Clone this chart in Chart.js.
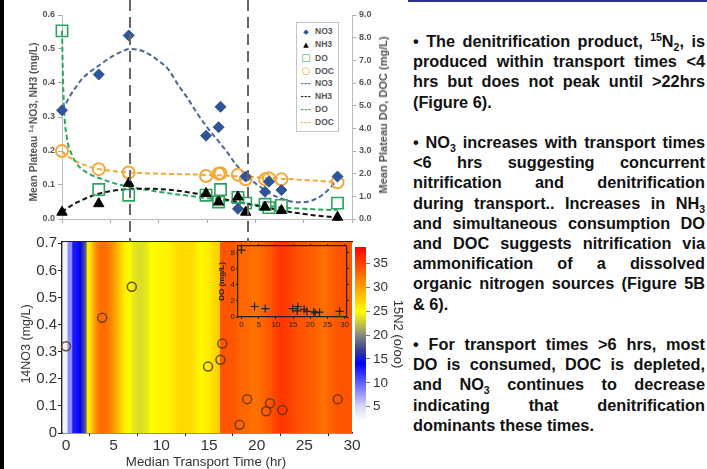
<!DOCTYPE html>
<html>
<head>
<meta charset="utf-8">
<script src="https://cdn.jsdelivr.net/npm/chart.js@4.4.1/dist/chart.umd.min.js"></script>
<style>
  html, body { margin: 0; padding: 0; background: #fff; }
  body { width: 707px; height: 469px; position: relative; overflow: hidden; font-family: "Liberation Sans", Arial, sans-serif; }
  .abs { position: absolute; }
  canvas { display: block; }
  .vt { position: absolute; white-space: nowrap; transform: translate(-50%, -50%) rotate(-90deg); }
  .ht { position: absolute; white-space: nowrap; transform: translate(-50%, -50%); }
  #legend { position: absolute; left: 296px; top: 22px; width: 41px; border: 1px solid #c4c4c4; background: #fff;
            font: bold 8.5px "Liberation Sans", Arial, sans-serif; color: #555; padding: 2px 0; }
  #legend .row { height: 13px; line-height: 13px; white-space: nowrap; }
  #legend .sym { display: inline-block; width: 18px; text-align: center; font-family: "DejaVu Sans", sans-serif; }
  #notes { position: absolute; left: 413px; top: 31px; width: 292px; font: bold 16.3px "Liberation Sans", Arial, sans-serif;
           color: #111; line-height: 20.2px; }
  #notes .l { text-align: justify; text-align-last: justify; white-space: nowrap; }
  #notes .e { text-align: left; white-space: nowrap; }
  #notes .gap { height: 20.2px; }
  #notes sup, #notes sub { font-size: 10.5px; line-height: 0; }
</style>
</head>
<body>
<div class="abs" style="left:0;top:0;width:4px;height:469px;background:#000"></div>
<div class="abs" style="left:408px;top:0;width:299px;height:2px;background:#2e3192"></div>

<div class="abs" style="left:0;top:232px"><canvas id="bottomChart" width="365" height="237"></canvas></div>
<div class="abs" style="left:216px;top:240px"><canvas id="insetChart" width="136" height="92"></canvas></div>
<div class="abs" style="left:350px;top:236px"><canvas id="cbarChart" width="57" height="196"></canvas></div>
<div class="abs" style="left:0;top:0"><canvas id="topChart" width="400" height="242"></canvas></div>

<div id="legend"></div>

<div class="vt" style="left:33px;top:122px;font:bold 10.3px 'Liberation Sans',Arial,sans-serif;color:#555">Mean Plateau ¹⁴NO3, NH3 (mg/L)</div>
<div class="vt" style="left:383px;top:115px;font:bold 11px 'Liberation Sans',Arial,sans-serif;color:#555">Mean Plateau DO, DOC (mg/L)</div>
<div class="vt" style="left:26px;top:344px;font:12.5px 'Liberation Sans',Arial,sans-serif;color:#333">14NO3 (mg/L)</div>
<div class="ht" style="left:206px;top:461px;font:13.3px 'Liberation Sans',Arial,sans-serif;color:#333">Median Transport Time (hr)</div>

<div id="notes">
  <div class="l">• The denitrification product, <sup>15</sup>N<sub>2</sub>, is</div>
  <div class="l">produced within transport times &lt;4</div>
  <div class="l">hrs but does not peak until &gt;22hrs</div>
  <div class="e">(Figure 6).</div>
  <div class="gap"></div>
  <div class="l">• NO<sub>3</sub> increases with transport times</div>
  <div class="l">&lt;6 hrs suggesting concurrent</div>
  <div class="l">nitrification and denitrification</div>
  <div class="l">during transport.. Increases in NH<sub>3</sub></div>
  <div class="l">and simultaneous consumption DO</div>
  <div class="l">and DOC suggests nitrification via</div>
  <div class="l">ammonification of a dissolved</div>
  <div class="l">organic nitrogen sources (Figure 5B</div>
  <div class="e">&amp; 6).</div>
  <div class="gap"></div>
  <div class="l">• For transport times &gt;6 hrs, most</div>
  <div class="l">DO is consumed, DOC is depleted,</div>
  <div class="l">and NO<sub>3</sub> continues to decrease</div>
  <div class="l">indicating that denitrification</div>
  <div class="e">dominants these times.</div>
</div>

<script>
// sampled sites: median transport time (hr) and plateau concentrations
const sampleTimes = [0, 3.8, 6.9, 14.9, 16.2, 16.4, 18.2, 19.0, 21.0, 21.4, 22.7, 28.5];
const no3Vals     = [0.32, 0.425, 0.54, 0.245, 0.27, 0.33, 0.03, 0.125, 0.08, 0.11, 0.085, 0.125];
const nh3Vals     = [0.02, 0.045, 0.105, 0.075, 0.05, null, 0.065, 0.02, 0.035, null, 0.025, 0.005];
const doVals      = [8.3, 1.3, 1.05, 1.05, 0.75, 1.3, 0.95, 0.7, 0.65, 0.5, 0.6, 0.7];
const docVals     = [3.0, 2.2, 2.05, 1.9, 2.0, 2.02, 1.95, 1.75, 1.75, 1.8, 1.75, 1.62];

// fitted trend lines (dashed)
const fitTimes = [0, 0.1, 0.25, 0.5, 1, 1.5, 2, 3, 4, 5, 6, 7, 8, 9, 10, 11, 12, 13, 14, 15, 16, 17, 18, 19, 20, 21, 22, 23, 24, 25, 26, 27, 28, 28.5];
const no3Fit = [0.32, 0.325, 0.333, 0.345, 0.37, 0.39, 0.41, 0.435, 0.455, 0.475, 0.49, 0.5, 0.497, 0.485, 0.465, 0.44, 0.395, 0.355, 0.31, 0.27, 0.235, 0.2, 0.16, 0.13, 0.105, 0.085, 0.068, 0.057, 0.05, 0.049, 0.056, 0.072, 0.1, 0.12];
const nh3Fit = [0.02, 0.022, 0.026, 0.031, 0.04, 0.048, 0.055, 0.067, 0.076, 0.082, 0.086, 0.088, 0.089, 0.089, 0.088, 0.086, 0.083, 0.079, 0.074, 0.069, 0.063, 0.057, 0.051, 0.045, 0.04, 0.035, 0.029, 0.024, 0.019, 0.015, 0.011, 0.008, 0.006, 0.005];
const doFit  = [8.3, 6.2, 4.6, 3.6, 2.85, 2.45, 2.22, 1.95, 1.78, 1.63, 1.51, 1.42, 1.34, 1.27, 1.2, 1.14, 1.08, 1.03, 0.97, 0.92, 0.87, 0.81, 0.75, 0.69, 0.63, 0.58, 0.54, 0.5, 0.47, 0.45, 0.43, 0.41, 0.4, 0.4];
const docFit = [3.0, 2.95, 2.88, 2.8, 2.66, 2.53, 2.43, 2.29, 2.19, 2.13, 2.08, 2.05, 2.03, 2.01, 2.0, 1.99, 1.98, 1.97, 1.96, 1.94, 1.93, 1.91, 1.89, 1.87, 1.85, 1.82, 1.8, 1.77, 1.75, 1.72, 1.7, 1.67, 1.64, 1.62];

const dividerTimes = [7.0, 19.2];
const timeTicks = [0, 5, 10, 15, 20, 25, 30];
const leftTicks = [0, 0.1, 0.2, 0.3, 0.4, 0.5, 0.6];
const rightTicks = [0, 1, 2, 3, 4, 5, 6, 7, 8, 9];

// 15N2 field along transport time (per mil)
const heatTimes = [0, 0.5, 1, 1.5, 2, 2.5, 3, 3.5, 4, 4.5, 5, 5.5, 6, 6.5, 7, 7.5, 8, 8.5, 9, 9.5, 10, 10.5, 11, 11.5, 12, 12.5, 13, 13.5, 14, 14.5, 15, 15.5, 16, 16.5, 17, 17.5, 18, 18.5, 19, 19.5, 20, 20.5, 21, 21.5, 22, 22.5, 23, 23.5, 24, 24.5, 25, 25.5, 26, 26.5, 27, 27.5, 28, 28.5, 29, 29.5, 30];
const heatN2    = [3, 8, 13, 14, 18, 26, 30, 32.5, 33, 32, 30.5, 28.5, 26.5, 25.5, 24, 23.5, 23.5, 24, 25, 25.5, 25.5, 25.5, 26, 26.5, 27, 27, 27, 26.5, 25.5, 25.5, 26, 27, 27.5, 34, 34, 34, 33.5, 33, 33, 32.5, 32.5, 33, 33.5, 34, 35, 35.5, 35.5, 35, 34.5, 34, 34, 33.5, 33.5, 33, 32.5, 33, 33.5, 34, 34, 34, 34];
const nitrateTicks = [0, 0.1, 0.2, 0.3, 0.4, 0.5, 0.6, 0.7];
const nitrateMax = 0.705;

const cbarMin = 2, cbarMax = 38.5;
const cbarTicks = [5, 10, 15, 20, 25, 30, 35];
const cmapStops = [[2, '#ffffff'], [5, '#d8d8f8'], [10, '#6060ff'], [14, '#0000ff'], [17, '#404090'], [20, '#888880'], [22.5, '#c8c840'], [25, '#ffff00'], [30, '#ffa000'], [38.5, '#ff0000']];

const insetTicksY = [0, 2, 4, 6, 8];

function hexRgb(h) { return [1, 3, 5].map(i => parseInt(h.slice(i, i + 2), 16)); }
function colorFor(v) {
  for (let i = 1; i < cmapStops.length; i++) {
    const [v0, c0] = cmapStops[i - 1], [v1, c1] = cmapStops[i];
    if (v <= v1 || i === cmapStops.length - 1) {
      const t = Math.max(0, Math.min(1, (v - v0) / (v1 - v0)));
      const a = hexRgb(c0), b = hexRgb(c1);
      return `rgb(${a.map((x, k) => Math.round(x + (b[k] - x) * t)).join(',')})`;
    }
  }
}
const pts = (xs, ys) => xs.map((x, i) => ({ x, y: ys[i] })).filter(p => p.y != null);
const setTicks = arr => s => { s.ticks = arr.map(v => ({ value: v })); };
const fixW = w => s => { s.width = w; };
const fixH = h => s => { s.height = h; };
const noPlugins = { legend: { display: false }, tooltip: { enabled: false } };

Chart.defaults.font.family = '"Liberation Sans", Arial, sans-serif';

// smooth colour inside each heat cell; keep the jump sharp where the field steps
function heatFill(c) {
  const i = c.dataIndex;
  const chart = c.chart;
  if (i == null) return colorFor(heatN2[0]);
  if (!chart.chartArea) return colorFor(heatN2[i]);
  const n = heatTimes.length, x = chart.scales.x, v = heatN2[i], t = heatTimes[i];
  const edge = (nb) => Math.abs(nb - v) > 4 ? v : (nb + v) / 2;
  const tl = i > 0 ? (heatTimes[i - 1] + t) / 2 : t;
  const tr = i < n - 1 ? (t + heatTimes[i + 1]) / 2 : t + 0.25;
  const vl = i > 0 ? edge(heatN2[i - 1]) : v;
  const vr = i < n - 1 ? edge(heatN2[i + 1]) : v;
  const g = chart.ctx.createLinearGradient(x.getPixelForValue(tl), 0, x.getPixelForValue(tr), 0);
  g.addColorStop(0, colorFor(vl));
  g.addColorStop(0.5, colorFor(v));
  g.addColorStop(1, colorFor(vr));
  return g;
}

// ---------- top chart ----------
const dividerPlugin = {
  id: 'dividers',
  afterDraw(chart) {
    const { ctx, scales: { x } } = chart;
    ctx.save();
    ctx.strokeStyle = '#666';
    ctx.lineWidth = 2;
    ctx.setLineDash([11, 6]);
    dividerTimes.forEach(t => {
      const px = Math.round(x.getPixelForValue(t));
      ctx.beginPath();
      ctx.moveTo(px, 0);
      ctx.lineTo(px, chart.height);
      ctx.stroke();
    });
    ctx.restore();
  }
};

const markerSets = [
  { label: 'NO3', data: pts(sampleTimes, no3Vals), yAxisID: 'y', pointStyle: 'rectRot', pointRadius: 5.5,
    backgroundColor: '#2f5597', borderColor: '#2f5597', borderWidth: 1 },
  { label: 'NH3', data: pts(sampleTimes, nh3Vals), yAxisID: 'y', pointStyle: 'triangle', pointRadius: 6,
    backgroundColor: '#000', borderColor: '#000', borderWidth: 1 },
  { label: 'DO', data: pts(sampleTimes, doVals), yAxisID: 'y2', pointStyle: 'rect', pointRadius: 8,
    backgroundColor: 'rgba(0,0,0,0)', borderColor: '#2aa55e', borderWidth: 1.6 },
  { label: 'DOC', data: pts(sampleTimes, docVals), yAxisID: 'y2', pointStyle: 'circle', pointRadius: 6,
    backgroundColor: 'rgba(0,0,0,0)', borderColor: '#f2a93b', borderWidth: 2 }
];
const fitSets = [
  { label: 'NO3', data: pts(fitTimes, no3Fit), yAxisID: 'y', borderColor: '#4a6699' },
  { label: 'NH3', data: pts(fitTimes, nh3Fit), yAxisID: 'y', borderColor: '#111' },
  { label: 'DO', data: pts(fitTimes, doFit), yAxisID: 'y2', borderColor: '#2aa55e' },
  { label: 'DOC', data: pts(fitTimes, docFit), yAxisID: 'y2', borderColor: '#f2a93b' }
].map(d => Object.assign(d, { showLine: true, pointRadius: 0, borderWidth: 2, borderDash: [5, 3],
                               cubicInterpolationMode: 'monotone', clip: false }));
markerSets.forEach(d => { d.clip = false; });

const topAxis = (extra) => Object.assign({
  type: 'linear',
  grid: { drawOnChartArea: false, tickLength: 4, color: '#aaa' },
  border: { color: '#bbb' },
  ticks: { font: { size: 9, weight: 'bold' }, color: '#555', padding: 2 }
}, extra);

new Chart(document.getElementById('topChart'), {
  type: 'scatter',
  data: { datasets: [...markerSets, ...fitSets] },
  options: {
    responsive: false,
    animation: false,
    layout: { padding: { top: 15, left: 0, right: 0, bottom: 0 } },
    plugins: noPlugins,
    scales: {
      x: topAxis({ min: 0, max: 30, afterBuildTicks: setTicks(timeTicks), afterFit: fixH(23),
                   ticks: { display: false } }),
      y: topAxis({ position: 'left', min: 0, max: 0.6, afterBuildTicks: setTicks(leftTicks), afterFit: fixW(62),
                   ticks: { font: { size: 9, weight: 'bold' }, color: '#555', padding: 3, callback: v => v.toFixed(1) } }),
      y2: topAxis({ position: 'right', min: 0, max: 9, afterBuildTicks: setTicks(rightTicks), afterFit: fixW(48),
                    ticks: { font: { size: 9, weight: 'bold' }, color: '#555', padding: 3, callback: v => v.toFixed(1) } })
    }
  },
  plugins: [dividerPlugin]
});

// legend built from the datasets
const symbolFor = { rectRot: '◆', triangle: '▲', rect: '□', circle: '○' };
const legendEl = document.getElementById('legend');
markerSets.forEach(d => {
  const big = d.pointStyle === 'rect' || d.pointStyle === 'circle';
  legendEl.insertAdjacentHTML('beforeend',
    `<div class="row"><span class="sym" style="color:${d.borderColor};font-size:${big ? 10 : 7}px;font-weight:bold">${symbolFor[d.pointStyle]}</span>${d.label}</div>`);
});
fitSets.forEach(d => {
  legendEl.insertAdjacentHTML('beforeend',
    `<div class="row"><span class="sym" style="color:${d.borderColor};font-family:'Liberation Sans',Arial,sans-serif;letter-spacing:0.6px">---</span>${d.label}</div>`);
});

// ---------- bottom chart: 15N2 field with 14NO3 ----------
new Chart(document.getElementById('bottomChart'), {
  type: 'bar',
  data: {
    datasets: [
      { type: 'scatter', data: pts(sampleTimes, no3Vals), pointStyle: 'circle', pointRadius: 4.5,
        borderColor: 'rgba(95,55,25,0.9)', borderWidth: 1.5, backgroundColor: 'rgba(0,0,0,0)', clip: false },
      { type: 'bar', data: heatTimes.map(t => ({ x: t, y: nitrateMax })), backgroundColor: heatFill,
        barPercentage: 1.12, categoryPercentage: 1, barThickness: 'flex', borderWidth: 0, inflateAmount: 0.6 }
    ]
  },
  options: {
    responsive: false,
    animation: false,
    layout: { padding: { top: 8, right: 13, left: 0, bottom: 0 } },
    plugins: noPlugins,
    scales: {
      x: { type: 'linear', min: -0.42, max: 30, offset: false, afterBuildTicks: setTicks(timeTicks), afterFit: fixH(36),
           grid: { drawOnChartArea: false, tickLength: 3, color: '#222' }, border: { color: '#222', width: 1.5 },
           ticks: { font: { size: 15.5 }, color: '#333', padding: 0, maxRotation: 0 } },
      xTop: { type: 'linear', position: 'top', min: -0.42, max: 30, afterFit: fixH(0),
              grid: { display: false }, border: { color: '#222', width: 1.5 }, ticks: { display: false } },
      y: { type: 'linear', min: 0, max: nitrateMax, afterBuildTicks: setTicks(nitrateTicks), afterFit: fixW(62),
           grid: { drawOnChartArea: false, tickLength: 4, color: '#222' }, border: { color: '#222', width: 1.5 },
           ticks: { font: { size: 15 }, color: '#333', padding: 1, callback: v => v === 0 ? '0' : v.toFixed(1) } }
    }
  }
});

// ---------- inset: DO ----------
const insetAxis = (extra) => Object.assign({
  type: 'linear',
  grid: { drawOnChartArea: false, tickLength: 2, color: '#222' },
  border: { color: '#222', width: 1.2 },
  ticks: { font: { size: 8 }, color: '#222', padding: 1, maxRotation: 0 }
}, extra);

new Chart(document.getElementById('insetChart'), {
  type: 'scatter',
  data: { datasets: [{ data: pts(sampleTimes, doVals), pointStyle: 'cross', pointRadius: 4,
                       borderColor: '#222', borderWidth: 1.2, clip: false }] },
  options: {
    responsive: false,
    animation: false,
    layout: { padding: 0 },
    plugins: noPlugins,
    scales: {
      x: insetAxis({ min: -1, max: 30.6, afterBuildTicks: setTicks(timeTicks), afterFit: fixH(15) }),
      xTop: insetAxis({ position: 'top', min: -1, max: 30.6, afterBuildTicks: setTicks(timeTicks), afterFit: fixH(6),
                        ticks: { display: false } }),
      y: insetAxis({ position: 'left', min: 0, max: 8.8, afterBuildTicks: setTicks(insetTicksY), afterFit: fixW(22),
                     title: { display: true, text: 'DO (mg/L)', font: { size: 8, weight: 'bold' }, color: '#222',
                              padding: { top: 1, bottom: 0 } } }),
      yRight: insetAxis({ position: 'right', min: 0, max: 8.8, afterBuildTicks: setTicks(insetTicksY), afterFit: fixW(5),
                          ticks: { display: false } })
    }
  }
});

// ---------- colour bar ----------
new Chart(document.getElementById('cbarChart'), {
  type: 'bar',
  data: {
    labels: ['15N2'],
    datasets: [{
      data: [[cbarMin, cbarMax]],
      barPercentage: 1, categoryPercentage: 1, borderWidth: 0,
      backgroundColor: (ctx) => {
        const chart = ctx.chart;
        if (!chart.chartArea) return null;
        const y = chart.scales.y;
        const g = chart.ctx.createLinearGradient(0, y.getPixelForValue(cbarMin), 0, y.getPixelForValue(cbarMax));
        cmapStops.forEach(([v, c]) => g.addColorStop((v - cbarMin) / (cbarMax - cbarMin), c));
        return g;
      }
    }]
  },
  options: {
    responsive: false,
    animation: false,
    layout: { padding: { top: 10, bottom: 8, left: 5, right: 0 } },
    plugins: noPlugins,
    scales: {
      x: { display: false },
      y: { position: 'right', min: cbarMin, max: cbarMax, afterBuildTicks: setTicks(cbarTicks), afterFit: fixW(41),
           grid: { drawOnChartArea: false, tickLength: 4, color: '#777' }, border: { display: false },
           ticks: { font: { size: 13.5 }, color: '#333', padding: 3 },
           title: { display: true, text: '15N2 (o/oo)', font: { size: 13 }, color: '#333', padding: { top: 2, bottom: 0 } } }
    }
  }
});
</script>
</body>
</html>
